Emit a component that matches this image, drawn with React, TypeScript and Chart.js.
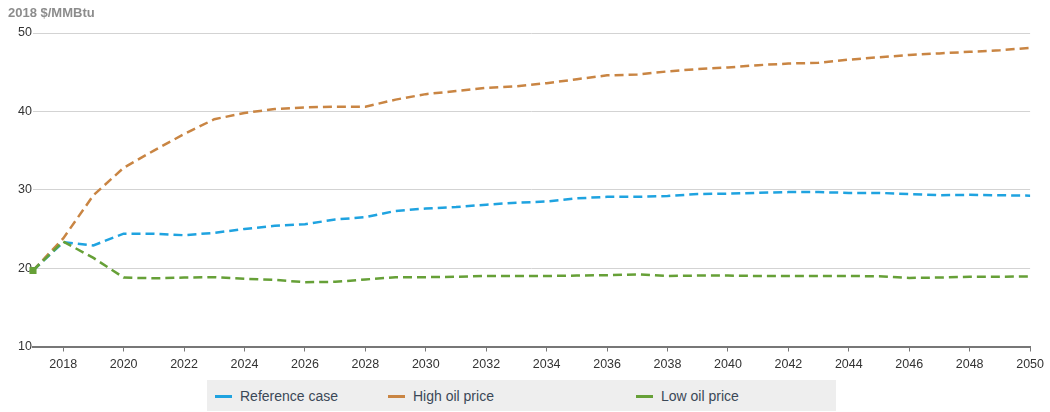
import React, { useEffect, useRef } from "react";
import { Chart, registerables } from "chart.js";

Chart.register(...registerables);

const years: string[] = [
  "2017", "2018", "2019", "2020", "2021", "2022", "2023", "2024", "2025", "2026",
  "2027", "2028", "2029", "2030", "2031", "2032", "2033", "2034", "2035", "2036",
  "2037", "2038", "2039", "2040", "2041", "2042", "2043", "2044", "2045", "2046",
  "2047", "2048", "2049", "2050",
];

const referenceCase: number[] = [
  19.7, 23.3, 22.9, 24.4, 24.4, 24.2, 24.5, 25.0, 25.4, 25.6,
  26.2, 26.5, 27.3, 27.6, 27.8, 28.1, 28.35, 28.5, 28.9, 29.1,
  29.1, 29.2, 29.45, 29.5, 29.6, 29.7, 29.7, 29.6, 29.6, 29.45,
  29.3, 29.35, 29.3, 29.25,
];

const highOilPrice: number[] = [
  19.7, 23.8, 29.3, 32.8, 35.0, 37.1, 39.0, 39.8, 40.3, 40.5,
  40.6, 40.6, 41.5, 42.2, 42.6, 43.0, 43.2, 43.6, 44.1, 44.6,
  44.7, 45.1, 45.4, 45.6, 45.9, 46.1, 46.2, 46.6, 46.9, 47.2,
  47.4, 47.6, 47.8, 48.1,
];

const lowOilPrice: number[] = [
  19.7, 23.4, 21.3, 18.8, 18.7, 18.8, 18.85, 18.65, 18.5, 18.2,
  18.25, 18.55, 18.85, 18.85, 18.9, 19.0, 19.0, 19.0, 19.05, 19.1,
  19.2, 19.0, 19.05, 19.05, 19.0, 19.0, 19.0, 19.0, 18.95, 18.75,
  18.8, 18.9, 18.9, 18.95,
];

const yTicks: number[] = [10, 20, 30, 40, 50];

const seriesNames = ["Reference case", "High oil price", "Low oil price"];
const BLUE = "#1fa3e0";
const ORANGE = "#c98543";
const GREEN = "#66a037";
const FONT = "'Liberation Sans', Arial, sans-serif";

export default function App() {
  const canvasRef = useRef<HTMLCanvasElement | null>(null);

  useEffect(() => {
    document.body.style.margin = "0";
    const canvas = canvasRef.current;
    if (!canvas) return;
    const dash = [9, 5];
    const chart = new Chart(canvas, {
      type: "line",
      data: {
        labels: years,
        datasets: [
          {
            label: seriesNames[2],
            data: lowOilPrice,
            borderColor: GREEN,
            backgroundColor: GREEN,
            borderWidth: 2.5,
            borderDash: dash,
            pointStyle: "rect",
            pointRadius: (ctx: any) => (ctx.dataIndex === 0 ? 5 : 0),
            pointBorderWidth: 0,
            tension: 0,
          },
          {
            label: seriesNames[0],
            data: referenceCase,
            borderColor: BLUE,
            backgroundColor: BLUE,
            borderWidth: 2.5,
            borderDash: dash,
            pointRadius: 0,
            tension: 0,
          },
          {
            label: seriesNames[1],
            data: highOilPrice,
            borderColor: ORANGE,
            backgroundColor: ORANGE,
            borderWidth: 2.5,
            borderDash: dash,
            pointRadius: 0,
            tension: 0,
          },
        ],
      },
      options: {
        responsive: false,
        animation: false,
        layout: { padding: { left: 8, right: 16, top: 33, bottom: 35.5 } },
        plugins: {
          legend: { display: false },
          tooltip: { enabled: false },
          title: { display: false },
        },
        scales: {
          x: {
            type: "category",
            offset: false,
            grid: {
              drawOnChartArea: false,
              drawTicks: true,
              tickLength: 5,
              color: "#777777",
              lineWidth: 1,
            },
            border: { display: true, color: "#777777", width: 2 },
            ticks: {
              autoSkip: false,
              maxRotation: 0,
              minRotation: 0,
              padding: 6,
              color: "#333333",
              font: { family: FONT, size: 12.5 },
              callback: function (this: any, _v: any, idx: number) {
                const y = Number(years[idx]);
                return y % 2 === 0 ? years[idx] : null;
              },
            },
            afterFit: (scale: any) => {
              scale.height = 30;
            },
          },
          y: {
            min: yTicks[0],
            max: yTicks[yTicks.length - 1],
            afterBuildTicks: (scale: any) => {
              scale.ticks = yTicks.map((v) => ({ value: v }));
            },
            grid: { color: "#d3d3d3", lineWidth: 1, drawTicks: false },
            border: { display: false },
            ticks: {
              padding: 1,
              color: "#333333",
              font: { family: FONT, size: 12.5 },
            },
            afterFit: (scale: any) => {
              scale.width = 25;
            },
          },
        },
      },
    });
    return () => chart.destroy();
  }, []);

  const legendItems = [
    { name: seriesNames[0], color: BLUE, left: 8 },
    { name: seriesNames[1], color: ORANGE, left: 181 },
    { name: seriesNames[2], color: GREEN, left: 429 },
  ];

  return (
    <div
      style={{
        position: "absolute",
        left: 0,
        top: 0,
        width: 1050,
        height: 412,
        fontFamily: FONT,
        background: "#ffffff",
      }}
    >
      <canvas
        ref={canvasRef}
        width={1050}
        height={412}
        style={{ position: "absolute", left: 0, top: 0, width: 1050, height: 412 }}
      />
      <div
        style={{
          position: "absolute",
          left: 8,
          top: 5,
          fontSize: 13,
          fontWeight: "bold",
          color: "#8c8c8c",
          lineHeight: "15px",
          whiteSpace: "nowrap",
        }}
      >
        2018 $/MMBtu
      </div>
      <div
        style={{
          position: "absolute",
          left: 207,
          top: 380,
          width: 629,
          height: 31,
          background: "#eeeeee",
        }}
      >
        {legendItems.map((it) => (
          <div
            key={it.name}
            style={{
              position: "absolute",
              left: it.left,
              top: 0,
              height: 31,
              display: "flex",
              alignItems: "center",
              whiteSpace: "nowrap",
            }}
          >
            <span
              style={{
                display: "inline-block",
                width: 17,
                height: 3,
                background: it.color,
                marginRight: 8,
                marginTop: 2,
              }}
            />
            <span style={{ fontSize: 14, color: "#3b4857" }}>{it.name}</span>
          </div>
        ))}
      </div>
    </div>
  );
}
